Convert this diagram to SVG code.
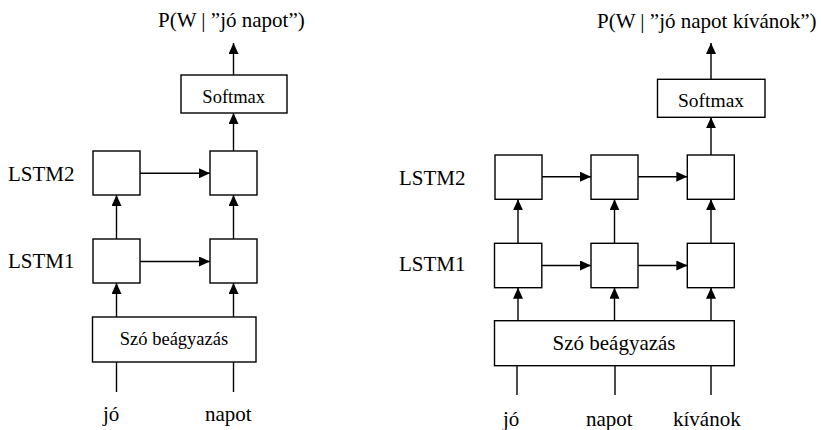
<svg xmlns="http://www.w3.org/2000/svg" width="821" height="430" viewBox="0 0 821 430" font-family="'Liberation Serif', 'Times New Roman', serif">
<style>
.box{fill:#fff;stroke:#000;stroke-width:1.4}
.ln{fill:none;stroke:#000;stroke-width:1.4}
.ar{fill:none;stroke:#000;stroke-width:1.4;marker-end:url(#ah)}
.t{font-family:'Liberation Serif','Times New Roman',serif;fill:#000}
.lg{font-size:21px}
.sm{font-size:18.5px}
.c{text-anchor:middle}
</style>
<defs>
<marker id="ah" markerUnits="userSpaceOnUse" markerWidth="11" markerHeight="10" refX="11" refY="5" orient="auto">
<path d="M0,0 L11,5 L0,10 z" fill="#000"/>
</marker>
</defs>
<rect width="821" height="430" fill="#fff"/>

<g id="connectors">
<line class="ar" x1="233.5" y1="75" x2="233.5" y2="43"/>
<line class="ar" x1="233.5" y1="151" x2="233.5" y2="113"/>
<line class="ar" x1="140" y1="173.3" x2="210" y2="173.3"/>
<line class="ar" x1="140" y1="261.5" x2="210" y2="261.5"/>
<line class="ar" x1="116.5" y1="239" x2="116.5" y2="195"/>
<line class="ar" x1="233.5" y1="239" x2="233.5" y2="195"/>
<line class="ar" x1="116.5" y1="317" x2="116.5" y2="283"/>
<line class="ar" x1="233.5" y1="317" x2="233.5" y2="283"/>
<line class="ln" x1="116.5" y1="362" x2="116.5" y2="392"/>
<line class="ln" x1="233.5" y1="362" x2="233.5" y2="392"/>
<line class="ar" x1="711" y1="79.3" x2="711" y2="43"/>
<line class="ar" x1="711" y1="155" x2="711" y2="117.3"/>
<line class="ar" x1="542" y1="176.7" x2="591" y2="176.7"/>
<line class="ar" x1="638" y1="176.7" x2="687.3" y2="176.7"/>
<line class="ar" x1="542" y1="265.5" x2="591" y2="265.5"/>
<line class="ar" x1="638" y1="265.5" x2="687.3" y2="265.5"/>
<line class="ar" x1="518" y1="243.3" x2="518" y2="199.3"/>
<line class="ar" x1="614.5" y1="243.3" x2="614.5" y2="199.3"/>
<line class="ar" x1="711" y1="243.3" x2="711" y2="199.3"/>
<line class="ar" x1="518" y1="320.7" x2="518" y2="287.7"/>
<line class="ar" x1="614.5" y1="320.7" x2="614.5" y2="287.7"/>
<line class="ar" x1="711" y1="320.7" x2="711" y2="287.7"/>
<line class="ln" x1="517" y1="365.7" x2="517" y2="395"/>
<line class="ln" x1="615" y1="365.7" x2="615" y2="395"/>
<line class="ln" x1="711" y1="365.7" x2="711" y2="395"/>
</g>

<g id="l-title"><text class="t lg" x="158" y="27">P(W | ”jó napot”)</text></g>
<g id="l-softmax"><rect class="box" x="181" y="75" width="106" height="38"/><text class="t sm c" x="233.7" y="103">Softmax</text></g>
<g id="l-lstm2-label"><text class="t lg" x="8" y="181">LSTM2</text></g>
<g id="l-lstm1-label"><text class="t lg" x="8" y="267.5">LSTM1</text></g>
<g id="l-lstm2-1"><rect class="box" x="93" y="151" width="47" height="44"/></g>
<g id="l-lstm2-2"><rect class="box" x="210" y="151" width="47" height="44"/></g>
<g id="l-lstm1-1"><rect class="box" x="93" y="239" width="47" height="44"/></g>
<g id="l-lstm1-2"><rect class="box" x="210" y="239" width="47" height="44"/></g>
<g id="l-embed"><rect class="box" x="92.5" y="317" width="163.5" height="45"/><text class="t sm c" x="174" y="345">Szó beágyazás</text></g>
<g id="l-w1"><text class="t lg" x="103" y="421">jó</text></g>
<g id="l-w2"><text class="t lg" x="205" y="421">napot</text></g>

<g id="r-title"><text class="t lg" x="597" y="28">P(W | ”jó napot kívánok”)</text></g>
<g id="r-softmax"><rect class="box" x="657.5" y="79.3" width="107.5" height="38"/><text class="t c" style="font-size:19.5px" x="711" y="107">Softmax</text></g>
<g id="r-lstm2-label"><text class="t lg" x="399" y="185">LSTM2</text></g>
<g id="r-lstm1-label"><text class="t lg" x="399" y="270.5">LSTM1</text></g>
<g id="r-lstm2-1"><rect class="box" x="495" y="155" width="47" height="44.3"/></g>
<g id="r-lstm2-2"><rect class="box" x="591" y="155" width="47" height="44.3"/></g>
<g id="r-lstm2-3"><rect class="box" x="687.3" y="155" width="47" height="44.3"/></g>
<g id="r-lstm1-1"><rect class="box" x="494.5" y="243.3" width="47.3" height="44.4"/></g>
<g id="r-lstm1-2"><rect class="box" x="591" y="243.3" width="47" height="44.4"/></g>
<g id="r-lstm1-3"><rect class="box" x="687.3" y="243.3" width="47" height="44.4"/></g>
<g id="r-embed"><rect class="box" x="494.5" y="320.7" width="239.8" height="45"/><text class="t lg c" x="614" y="350">Szó beágyazás</text></g>
<g id="r-w1"><text class="t lg" x="503" y="426">jó</text></g>
<g id="r-w2"><text class="t lg" x="586" y="426">napot</text></g>
<g id="r-w3"><text class="t lg" x="673" y="426">kívánok</text></g>
</svg>
